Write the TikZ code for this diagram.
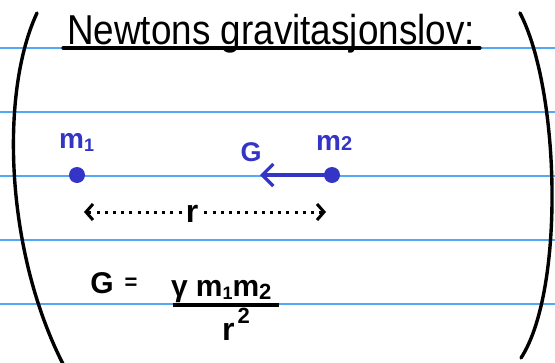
\documentclass[tikz,border=0pt]{standalone}
\usepackage{fontspec}
\setmainfont{Liberation Sans}
\usetikzlibrary{arrows.meta}
\definecolor{ruleblue}{HTML}{52A8F2}
\definecolor{ink}{HTML}{3434C6}
\tikzset{
  ruleline/.style={draw=ruleblue, line width=1.3pt},
  paren/.style={draw=black, line width=3.4pt, line cap=round},
  mass/.style={circle, fill=ink, inner sep=0pt, minimum size=16pt},
  bluetxt/.style={text=ink, font=\bfseries\fontsize{28}{28}\selectfont, inner sep=0pt},
  blktxt/.style={text=black, font=\bfseries\fontsize{30}{30}\selectfont, inner sep=0pt},
  dotline/.style={line width=3pt, dash pattern=on 3pt off 5.2pt},
  smalltip/.style={-{Straight Barb[length=7pt,width=16pt,line width=3pt]}},
}
\begin{document}
\begin{tikzpicture}[x=1pt,y=-1pt]
\useasboundingbox (0,0) rectangle (555,362);
\fill[white] (0,0) rectangle (555,362);
% ruled lines
\foreach \yy in {48,112,176,240,304} \draw[ruleline] (0,\yy) -- (555,\yy);
% brackets
\draw[paren] (37,13) .. controls (0,92) and (5,250) .. (63,364);
\draw[paren] (520,13) .. controls (560,90) and (565,290) .. (521,358);
% title
\node[anchor=base west, inner sep=0pt, font=\fontsize{38}{38}\selectfont] (title) at (67,44) {\scalebox{0.97}[1.1]{Newtons gravitasjonslov:}};
\coordinate (ulA) at (63,48);
\coordinate (ulB) at (480,48);
\draw[line width=3.2pt, line cap=round] (ulA) -- (ulB);
% masses
\node[mass] (m1) at (77,175) {};
\node[mass] (m2) at (332,175) {};
\node[bluetxt, anchor=base west] (m1l) at (59,148) {m\raisebox{-0.25ex}{\fontsize{18}{18}\selectfont 1}};
\node[bluetxt, anchor=base west] (m2l) at (316,150) {m\raisebox{-0.05ex}{\fontsize{20}{20}\selectfont 2}};
\node[bluetxt, anchor=base, font=\bfseries\fontsize{27}{27}\selectfont] (Gl) at (251,161) {G};
\coordinate (ftip) at (260,175);
\draw[draw=ink, line width=3.2pt, -{Straight Barb[length=11pt,width=22pt,line width=3.2pt]}] (m2.center) -- (ftip);
% distance r
\node[blktxt, anchor=base, font=\bfseries\fontsize{32}{32}\selectfont] (rl) at (192,222) {r};
\coordinate (rA) at (84,212);
\coordinate (rB) at (326,212);
\draw[dotline, smalltip] ([xshift=-4pt]rl.west |- rA) -- (rA);
\draw[dotline, smalltip] ([xshift=6pt]rl.east |- rB) -- (rB);
% formula
\node[blktxt, anchor=base] (G) at (102,293) {G};
\node[blktxt, anchor=base, font=\bfseries\fontsize{22}{22}\selectfont] (eq) at (131,289) {=};
\node[blktxt, anchor=base west] (num) at (171,296) {γ\hspace{8pt}m\raisebox{-0.2ex}{\fontsize{18}{18}\selectfont 1}m\raisebox{-0.25ex}{\fontsize{22}{22}\selectfont 2}};
\coordinate (barA) at (173,305);
\coordinate (barB) at (279,305);
\draw[line width=3.2pt] (barA) -- (barB);
\node[blktxt, anchor=base west, font=\bfseries\fontsize{32}{32}\selectfont] (den) at (222,340) {r\hspace{3pt}\raisebox{1.0ex}{\fontsize{22}{22}\selectfont 2}};
\end{tikzpicture}
\end{document}
